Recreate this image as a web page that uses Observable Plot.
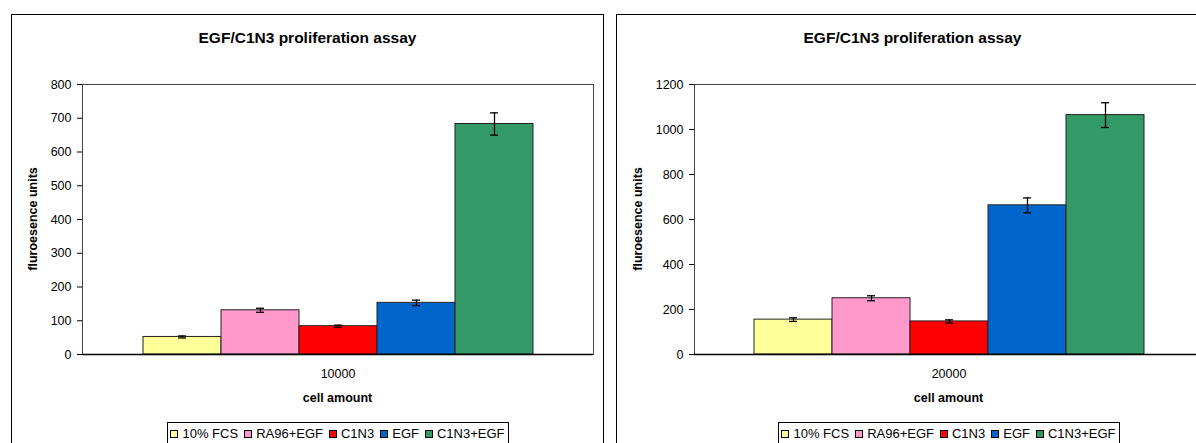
<!DOCTYPE html>
<html>
<head>
<meta charset="utf-8">
<script src="https://cdn.jsdelivr.net/npm/d3@7"></script>
<script src="https://cdn.jsdelivr.net/npm/@observablehq/plot@0.6"></script>
<style>
  html, body { margin: 0; padding: 0; background: #fff; width: 1196px; height: 443px; overflow: hidden; }
  body { position: relative; font-family: "Liberation Sans", Arial, sans-serif; color: #000; }
  .abs { position: absolute; }
  .abs svg { max-width: none !important; }
  .box { position: absolute; border: 1px solid #000; box-sizing: border-box; pointer-events: none; }
  .title { position: absolute; font-weight: bold; font-size: 15.5px; text-align: center; white-space: nowrap; }
  .xlab { position: absolute; font-weight: bold; font-size: 12.5px; text-align: center; white-space: nowrap; }
  .ylab { position: absolute; font-weight: bold; font-size: 12.5px; white-space: nowrap; transform: translate(-50%, -50%) rotate(-90deg); }
  .legend { position: absolute; border: 1px solid #000; box-sizing: border-box; background: #fff;
            display: flex; align-items: center; justify-content: center; font-size: 13px; white-space: nowrap; padding-top: 1px; }
  .legend span.item { display: inline-flex; align-items: center; margin: 0 3px; }
  .legend span.sw { display: inline-block; width: 6px; height: 6px; border: 1px solid #000; margin-right: 4px; }
</style>
</head>
<body>
<script>
// ---- data ----
const series = ["10% FCS", "RA96+EGF", "C1N3", "EGF", "C1N3+EGF"];
const seriesColors = ["#FFFF99", "#FF99CC", "#FF0000", "#0066CC", "#339966"];
const chartTitle = "EGF/C1N3 proliferation assay";
const xAxisLabel = "cell amount";
const yAxisLabel = "fluroesence units";

const cellAmountA = "10000";
const valuesA = [52, 131, 84, 153, 683];
const errorsA = [3, 6, 3, 8, 33];
const yTicksA = [0, 100, 200, 300, 400, 500, 600, 700, 800];

const cellAmountB = "20000";
const valuesB = [155, 250, 147, 663, 1064];
const errorsB = [8, 11, 7, 33, 55];
const yTicksB = [0, 200, 400, 600, 800, 1000, 1200];

function makeChart(amount, values, errors, yTicks, layout) {
  const rows = series.map((s, i) => ({
    group: amount, series: s, value: values[i],
    lo: values[i] - errors[i], hi: values[i] + errors[i]
  }));
  return Plot.plot({
    width: layout.width,
    height: 443,
    marginLeft: layout.marginLeft,
    marginRight: layout.marginRight,
    marginTop: 84,
    marginBottom: 89,
    style: { fontFamily: "'Liberation Sans', Arial, sans-serif", fontSize: "12.5px", color: "#000", background: "transparent", overflow: "visible" },
    fx: { domain: [amount], padding: 0, axis: "bottom", label: null, tickSize: 0, tickPadding: 15 },
    x: { domain: series, paddingInner: 0, paddingOuter: 0.75, axis: null },
    y: { domain: [yTicks[0], yTicks[yTicks.length - 1]], ticks: yTicks, tickFormat: d => String(d), tickSize: 5, tickPadding: 6, label: null, line: true },
    color: { domain: series, range: seriesColors },
    marks: [
      Plot.frame({ stroke: "#444", strokeWidth: 1 }),
      Plot.barY(rows, { fx: "group", x: "series", y: "value", fill: "series", stroke: "#222", strokeWidth: 1 }),
      Plot.ruleX(rows, { fx: "group", x: "series", y1: "lo", y2: "hi", stroke: "#000", strokeWidth: 1.3 }),
      Plot.tickY(rows, { fx: "group", x: "series", y: "lo", stroke: "#000", strokeWidth: 1.3, insetLeft: 35, insetRight: 35 }),
      Plot.tickY(rows, { fx: "group", x: "series", y: "hi", stroke: "#000", strokeWidth: 1.3, insetLeft: 35, insetRight: 35 }),
      Plot.ruleY([0], { stroke: "#000", strokeWidth: 1.5 })
    ]
  });
}

function addChart(cfg) {
  const svgWrap = document.createElement("div");
  svgWrap.className = "abs";
  svgWrap.style.left = cfg.svgLeft + "px";
  svgWrap.style.top = "0px";
  svgWrap.style.width = cfg.width + "px";
  svgWrap.style.height = "443px";
  const svg = makeChart(cfg.amount, cfg.values, cfg.errors, cfg.yTicks, cfg);
  svg.style.maxWidth = "none";
  svgWrap.appendChild(svg);
  document.body.appendChild(svgWrap);

  const box = document.createElement("div");
  box.className = "box";
  box.style.left = cfg.boxLeft + "px";
  box.style.top = "14px";
  box.style.width = "593px";
  box.style.height = "470px";
  document.body.appendChild(box);

  const t = document.createElement("div");
  t.className = "title";
  t.textContent = chartTitle;
  t.style.left = cfg.boxLeft + "px";
  t.style.width = "593px";
  t.style.top = "29px";
  document.body.appendChild(t);

  const plotLeft = cfg.svgLeft + cfg.marginLeft;
  const plotW = cfg.width - cfg.marginLeft - cfg.marginRight;
  const xl = document.createElement("div");
  xl.className = "xlab";
  xl.textContent = xAxisLabel;
  xl.style.left = plotLeft + "px";
  xl.style.width = plotW + "px";
  xl.style.top = "391px";
  document.body.appendChild(xl);

  const yl = document.createElement("div");
  yl.className = "ylab";
  yl.textContent = yAxisLabel;
  yl.style.left = (cfg.boxLeft + 22) + "px";
  yl.style.top = "219px";
  document.body.appendChild(yl);

  const lg = document.createElement("div");
  lg.className = "legend";
  lg.style.left = (plotLeft + plotW / 2 - 171) + "px";
  lg.style.top = "422px";
  lg.style.width = "342px";
  lg.style.height = "22px";
  series.forEach((s, i) => {
    const it = document.createElement("span");
    it.className = "item";
    const sw = document.createElement("span");
    sw.className = "sw";
    sw.style.background = seriesColors[i];
    it.appendChild(sw);
    it.appendChild(document.createTextNode(s));
    lg.appendChild(it);
  });
  document.body.appendChild(lg);
}

addChart({ amount: cellAmountA, values: valuesA, errors: errorsA, yTicks: yTicksA,
           svgLeft: 0, width: 600, marginLeft: 82, marginRight: 7, boxLeft: 11 });
addChart({ amount: cellAmountB, values: valuesB, errors: errorsB, yTicks: yTicksB,
           svgLeft: 605, width: 610, marginLeft: 89, marginRight: 12, boxLeft: 616 });
</script>
</body>
</html>
